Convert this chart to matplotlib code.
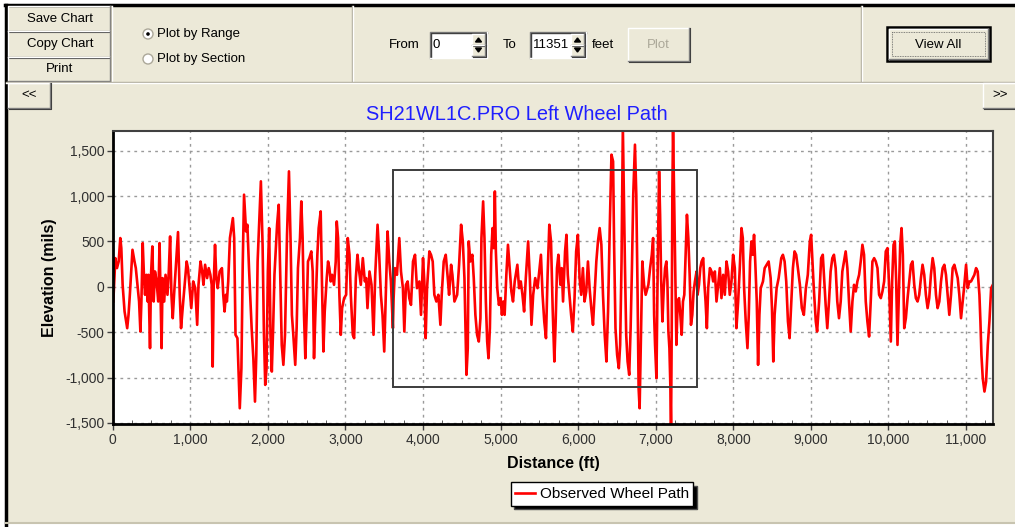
import matplotlib
matplotlib.use('Agg')
import matplotlib.pyplot as plt
from matplotlib.patches import Rectangle, Circle, Polygon
from matplotlib.ticker import MultipleLocator

plt.rcParams['font.family'] = ['Liberation Sans', 'DejaVu Sans']

# elevation profile (ft, mils)
distance_ft = [
    8, 34, 55, 77, 98, 111, 128, 153, 187, 204, 221, 238, 255, 281, 298, 323, 340, 357, 370, 387,
    404, 417, 434, 451, 460, 481, 494, 511, 528, 545, 566, 587, 604, 617, 630, 643, 664, 681, 706, 723,
    740, 757, 774, 791, 813, 842, 864, 881, 902, 928, 953, 970, 991, 1013, 1038, 1064, 1089, 1106, 1132, 1153,
    1170, 1191, 1217, 1238, 1259, 1276, 1289, 1302, 1319, 1336, 1353, 1379, 1408, 1425, 1442, 1459, 1472, 1489, 1511, 1549,
    1566, 1583, 1608, 1638, 1659, 1676, 1693, 1719, 1736, 1757, 1791, 1813, 1834, 1851, 1868, 1885, 1910, 1932, 1949, 1966,
    1983, 2000, 2017, 2034, 2051, 2068, 2085, 2119, 2140, 2157, 2179, 2200, 2221, 2247, 2272,
    2293, 2310, 2328, 2353, 2371, 2388, 2414, 2431, 2448, 2466, 2483, 2500, 2517, 2535, 2560, 2578, 2595, 2612, 2638, 2655,
    2681, 2698, 2716, 2733, 2759, 2776, 2793, 2810, 2828, 2853, 2875, 2888, 2905, 2922, 2940, 2957, 2983, 3009, 3030, 3052,
    3069, 3095, 3112, 3134, 3155, 3172, 3198, 3224, 3250, 3267, 3284, 3310, 3336, 3362, 3384, 3414, 3435, 3457, 3478, 3500,
    3522, 3543, 3565, 3586, 3612, 3621, 3638, 3664, 3694, 3716, 3741, 3759, 3780, 3802, 3823, 3845, 3871, 3897, 3922, 3953,
    3974, 4000, 4017, 4034, 4052, 4082, 4103, 4125, 4146, 4172, 4198, 4224, 4241, 4267, 4293, 4319, 4336, 4362, 4379, 4405,
    4440, 4465, 4491, 4513, 4534, 4560, 4577,
    4589, 4610, 4636, 4654, 4675, 4697, 4719, 4740, 4753, 4775, 4792, 4810, 4827, 4844, 4862, 4879, 4896, 4913, 4926, 4939,
    4957, 4978, 5000, 5017, 5035, 5052, 5074, 5095, 5117, 5139, 5160, 5182, 5216, 5238, 5260, 5282, 5303, 5325, 5355, 5377,
    5398, 5420, 5446, 5476, 5498, 5520, 5541, 5563, 5585, 5606, 5628, 5650, 5671, 5693, 5710, 5727, 5745, 5771, 5788, 5805,
    5831, 5849, 5866, 5888, 5909, 5931, 5953, 5974, 5996, 6018, 6039, 6061, 6082, 6104, 6126, 6147, 6169, 6191, 6212, 6234,
    6255, 6277, 6299, 6320, 6342, 6364, 6385, 6407, 6429, 6450, 6463, 6481, 6502, 6524, 6541, 6559, 6576, 6589, 6602, 6619,
    6637, 6658, 6676, 6693, 6710, 6732, 6749, 6766, 6779, 6792, 6810, 6827, 6849, 6870, 6905,
    6927, 6949, 6966, 6979, 6991, 7009, 7026, 7043, 7056, 7069, 7086, 7103, 7120, 7137, 7150, 7163, 7176, 7189, 7197, 7206,
    7214, 7223, 7236, 7249, 7266, 7283, 7300, 7317, 7334, 7351, 7368, 7385, 7402, 7420, 7437, 7454, 7471, 7488, 7505, 7526,
    7539, 7557, 7574, 7591, 7612, 7625, 7642, 7659, 7676, 7698, 7719, 7740, 7762, 7783, 7805, 7826, 7847, 7869, 7890, 7912,
    7933, 7954, 7976, 7997, 8019, 8040, 8062, 8083, 8105, 8122, 8139, 8160, 8182, 8199, 8216, 8233, 8250, 8267, 8284, 8302,
    8319, 8336, 8353, 8382, 8404, 8430, 8455, 8481, 8498, 8515, 8532, 8558, 8584, 8618, 8639, 8661, 8682, 8704, 8725, 8746,
    8768, 8789, 8810, 8832, 8858, 8883, 8909, 8935, 8960, 8986, 9003, 9020, 9037, 9063, 9080, 9106, 9132, 9153,
    9190, 9211, 9233, 9254, 9276, 9297, 9319, 9340, 9362, 9384, 9405, 9427, 9448, 9470, 9491, 9513, 9535, 9556, 9578, 9599,
    9621, 9642, 9664, 9685, 9707, 9728, 9750, 9771, 9793, 9815, 9836, 9858, 9879, 9901, 9922, 9944, 9965, 9987, 10009, 10030,
    10047, 10065, 10082, 10099, 10116, 10134, 10151, 10168, 10185, 10203, 10224, 10246, 10267, 10289, 10310, 10332, 10353, 10375, 10396, 10418,
    10439, 10461, 10482, 10504, 10525, 10547, 10569, 10590, 10612, 10633, 10655, 10677, 10698, 10720, 10741, 10762, 10784, 10806, 10827, 10849,
    10870, 10892, 10913, 10935, 10956, 10978, 11000, 11021, 11043, 11064, 11086, 11107, 11129, 11150, 11172, 11185, 11198, 11215, 11237, 11258,
    11280, 11301, 11323, 11345,
]
elevation_mils = [
    -162, 316, 206, 279, 537, 426, 22, -272, -456, -309, -88, 169, 408, 279, 206, -15, -162, -493, -162, 482,
    96, -88, 132, -162, 132, -676, 132, 445, -162, 169, 59, -162, 482, -88, -676, 96, -162, 132, -88, 169,
    555, -88, -346, -88, 206, 603, -88, -456, -235, 22, 279, 206, -15, -235, 59, -15, -419, 22, 279, 169,
    22, 243, 96, 206, 132, 22, -879, 22, 463, 96, -15, 169, 206, -88, -272, -88, -162, 59, 537, 757,
    537, -529, -566, -1338, -897, 243, 1015, 610, 684, 206, -456, -787, -1265, -750, 279, 647, 1162, 463, -493, -1081,
    -897, 169, 647, -529, -934, -456, 132, 684, 904, 206, -640, -860, -529, 573, 1272,
    500, -309, -529, -860, -456, 206, 537, 941, 537, -309, -787, -309, 279, 316, 390, 169, -787, -309, 353, 647,
    831, 22, -713, -272, 96, 279, 206, 59, 132, 22, 279, 720, 537, -88, -529, -235, -125, -88, 537, 353,
    -88, -529, -566, 96, 353, 206, 22, 316, 59, 96, -235, 169, 22, -529, 132, 684, 353, -88, -309, -713,
    -15, 610, 279, 59, -456, -125, 206, 132, 537, 169, -15, -493, 22, 59, -125, -199, 279, 353, -15, 59,
    -309, 316, 59, -566, -15, 390, 353, 279, -88, -162, -88, -419, -88, 279, 353, 96, -88, 243, 132, -162,
    -88, 243, 684, 500, 96, -970, -676,
    500, 279, 353, 96, -309, -529, -603, -346, 537, 941, 537, -162, -603, -787, -456, 353, 647, 426, 1051, 390,
    -15, -199, -125, -309, -162, -309, 132, 463, 206, -51, -162, 59, 243, -15, 59, -88, -272, 96, 500, 96,
    -419, -88, 96, -15, 169, 353, -88, -382, -566, 132, 684, 500, -235, -823, -382, 206, 353, 22, 206, -162,
    390, 573, 132, -88, -309, -493, -125, 390, 573, 96, -88, 206, -162, -51, 279, -15, -235, -419, -88, 279,
    500, 647, 463, -88, -529, -823, -272, 647, 1456, 1382, 463, -456, -750, -897, -640, 279, 1760, 1015, 279, -529,
    -823, -970, -456, 206, 1015, 1566, 1015, -88, -1118, -1338, -529, 279, 22, -88, 22,
    206, 353, 537, -309, -640, -1007, 279, 1272, 794, 96, -382, -15, 206, 279, 59, -493, -676, -1118, -1560, -456,
    1015, 1760, 1015, 279, -640, -162, -125, -309, -529, -162, -88, 353, 794, 537, 132, -419, -309, -51, 59, 169,
    -88, 22, 206, 279, 316, 59, -162, -456, -15, 206, 169, 59, 169, -162, 22, 206, -125, 132, -88, 279,
    169, -88, 59, 353, 206, -456, -162, 206, 647, 537, -15, -382, -676, -309, 279, 500, 353, 573, 243, -162,
    -860, -309, -15, 59, 206, 243, 279, 96, -235, -823, -309, -15, 96, 316, 353, 279, 59, -382, -566, -199,
    206, 390, 353, 206, 22, -235, -309, -15, 132, 500, 573, 279, -15, -382, -493, -162, 316, 353,
    -199, -456, -162, 169, 316, 353, 206, -162, -346, -162, 169, 279, 390, 206, -162, -493, -162, 22, -51, 59,
    132, 279, 463, 353, -162, -382, -548, -162, 279, 316, 279, 206, -88, -125, -51, 59, 390, 426, -15, -603,
    59, 463, 500, 59, -640, -88, 463, 647, 353, -456, -346, -125, 59, 243, 279, 22, -125, -162, -88, 96,
    243, 132, -88, -235, -125, 132, 316, 206, -88, -235, -162, 59, 206, 243, 132, -88, -309, -88, 206, 243,
    169, 96, -88, -346, -162, 22, 243, -15, 59, 59, 96, 132, 206, 169, -88, -382, -750, -1007, -1154, -1044,
    -640, -382, -15, 22,
]

x_ticks = [0, 1000, 2000, 3000, 4000, 5000, 6000, 7000, 8000, 9000, 10000, 11000]
y_ticks = [-1500, -1000, -500, 0, 500, 1000, 1500]
x_range = (0, 11351)
zoom_box_ft = (3616, 7529)
zoom_box_mils = (-1103, 1284)

FACE = '#ece9d8'

fig = plt.figure(figsize=(10.15, 5.27), dpi=100, facecolor='white')

# --- window chrome drawn in pixel units ---
ui = fig.add_axes([0, 0, 1, 1], zorder=0)
ui.set_xlim(0, 1015)
ui.set_ylim(527, 0)
ui.axis('off')

ui.add_patch(Rectangle((6, 5), 1012, 518, facecolor=FACE, edgecolor='none'))
ui.plot([6.5, 6.5], [527, 4.5], color='black', lw=2.5)
ui.plot([5, 1015], [5, 5], color='black', lw=2.5)
ui.plot([6, 1015], [523, 523], color='#c8c4b0', lw=1.5)


def button(x0, y0, x1, y1):
    ui.add_patch(Rectangle((x0, y0), x1 - x0, y1 - y0, facecolor=FACE, edgecolor='none'))
    ui.plot([x0, x0, x1], [y1, y0, y0], color='white', lw=1)
    ui.plot([x0, x1, x1], [y1, y1, y0], color='#808080', lw=1)
    ui.plot([x0 + 1, x1 + 1, x1 + 1], [y1 + 1, y1 + 1, y0], color='#404040', lw=0.8)


def etched_v(x, y0, y1):
    ui.plot([x, x], [y0, y1], color='#aca899', lw=1)
    ui.plot([x + 1, x + 1], [y0, y1], color='white', lw=1)


def spin_box(x0, y0, x1, y1, sx, text):
    ui.add_patch(Rectangle((x0, y0), x1 - x0, y1 - y0, facecolor='white', edgecolor='none'))
    ui.plot([x0, x0, x1], [y1, y0, y0], color='#808080', lw=1)
    ui.plot([x0 + 1, x0 + 1, x1], [y1, y0 + 1, y0 + 1], color='#404040', lw=1)
    ui.plot([x0, x1, x1], [y1, y1, y0], color='white', lw=1)
    ym = (y0 + y1) / 2
    button(sx, y0 + 2, x1 - 2, ym)
    button(sx, ym, x1 - 2, y1 - 2)
    cx = (sx + x1 - 2) / 2
    ui.add_patch(Polygon([[cx - 3, ym - 3], [cx + 3, ym - 3], [cx, ym - 7]], color='black'))
    ui.add_patch(Polygon([[cx - 3, ym + 3], [cx + 3, ym + 3], [cx, ym + 7]], color='black'))
    ui.text(x0 + 3, ym, text, fontsize=9.5, va='center', ha='left', color='black')


ui_font = 9.5

button(8, 6, 110, 31)
button(8, 31, 110, 57)
button(8, 57, 110, 81)
ui.text(60, 19, 'Save Chart', fontsize=ui_font, ha='center', va='center')
ui.text(60, 44, 'Copy Chart', fontsize=ui_font, ha='center', va='center')
ui.text(60, 69, 'Print', fontsize=ui_font, ha='center', va='center')

etched_v(111, 6, 81)
etched_v(352, 6, 81)
etched_v(861, 6, 81)
ui.plot([6, 1015], [81.5, 81.5], color='#aca899', lw=1)
ui.plot([6, 1015], [82.5, 82.5], color='white', lw=1)

for ry, label, sel in [(34, 'Plot by Range', True), (59, 'Plot by Section', False)]:
    ui.add_patch(Circle((148, ry), 5, facecolor='white', edgecolor='#aca899', lw=1))
    if sel:
        ui.add_patch(Circle((148, ry), 1.8, facecolor='black', edgecolor='none'))
    ui.text(157, ry, label, fontsize=ui_font, ha='left', va='center')

ui.text(389, 45, 'From', fontsize=ui_font, ha='left', va='center')
spin_box(430, 32, 487, 58, 472, '0')
ui.text(503, 45, 'To', fontsize=ui_font, ha='left', va='center')
spin_box(530, 32, 586, 58, 571, '11351')
ui.text(592, 45, 'feet', fontsize=ui_font, ha='left', va='center')

button(628, 28, 689, 61)
ui.text(658, 45, 'Plot', fontsize=ui_font, ha='center', va='center', color='#aca899')

ui.add_patch(Rectangle((887, 27), 103, 34, facecolor=FACE, edgecolor='black', lw=1.8))
button(889, 29, 988, 59)
ui.add_patch(Rectangle((892, 32), 93, 24, facecolor='none', edgecolor='#606060', lw=0.6, ls=(0, (1, 1))))
ui.text(938, 45, 'View All', fontsize=ui_font, ha='center', va='center')

button(8, 83, 50, 108)
ui.text(29, 95, '<<', fontsize=ui_font, ha='center', va='center')
button(983, 83, 1016, 108)
ui.text(1000, 95, '>>', fontsize=ui_font, ha='center', va='center')

ui.text(517, 114, 'SH21WL1C.PRO Left Wheel Path', fontsize=14.4, color='#1f1fff',
        ha='center', va='center')

# --- chart ---
ax = fig.add_axes([112.7 / 1015, 1 - 424.3 / 527, 880.6 / 1015, 293.6 / 527], zorder=1)
ax.set_facecolor('white')
ax.plot(distance_ft, elevation_mils, color='#ff0000', lw=1.9, label='Observed Wheel Path')
ax.add_patch(Rectangle((zoom_box_ft[0], zoom_box_mils[0]), zoom_box_ft[1] - zoom_box_ft[0],
                       zoom_box_mils[1] - zoom_box_mils[0], facecolor='none',
                       edgecolor='#3c3c3c', lw=1.4, zorder=3))
ax.set_xlim(*x_range)
ax.set_ylim(-1515, 1720)
ax.set_xticks(x_ticks)
ax.set_xticklabels([f'{v:,}' for v in x_ticks])
ax.set_yticks(y_ticks)
ax.set_yticklabels([f'{v:,}' for v in y_ticks])
ax.xaxis.set_minor_locator(MultipleLocator(250))
ax.tick_params(axis='both', which='major', labelsize=10, labelcolor='#303030', length=4,
               width=1, color='#404040', pad=2)
ax.tick_params(axis='x', which='minor', direction='in', length=3, color='#404040')
ax.grid(True, which='major', linestyle=(0, (2, 3)), color='#9a9a9a', lw=1)
for side in ['left', 'bottom']:
    ax.spines[side].set_linewidth(2)
    ax.spines[side].set_color('black')
for side in ['top', 'right']:
    ax.spines[side].set_linewidth(1.5)
    ax.spines[side].set_color('#404040')

ax.set_xlabel('Distance (ft)', fontsize=11.5, fontweight='bold')
ax.set_ylabel('Elevation (mils)', fontsize=11.5, fontweight='bold')
ax.xaxis.set_label_coords(0.5, -0.108)
ax.yaxis.set_label_coords(-0.063, 0.5)

ax.legend(loc='center', bbox_to_anchor=(602 / 1015, 1 - 494 / 527), bbox_transform=fig.transFigure,
          fancybox=False, edgecolor='black', framealpha=1, fontsize=11, handlelength=1.3,
          handletextpad=0.3, borderpad=0.3, borderaxespad=0,
          shadow={'ox': 2.5, 'oy': -2.5, 'facecolor': 'black', 'alpha': 1})

fig.savefig('out.png', dpi=100, facecolor='white')
